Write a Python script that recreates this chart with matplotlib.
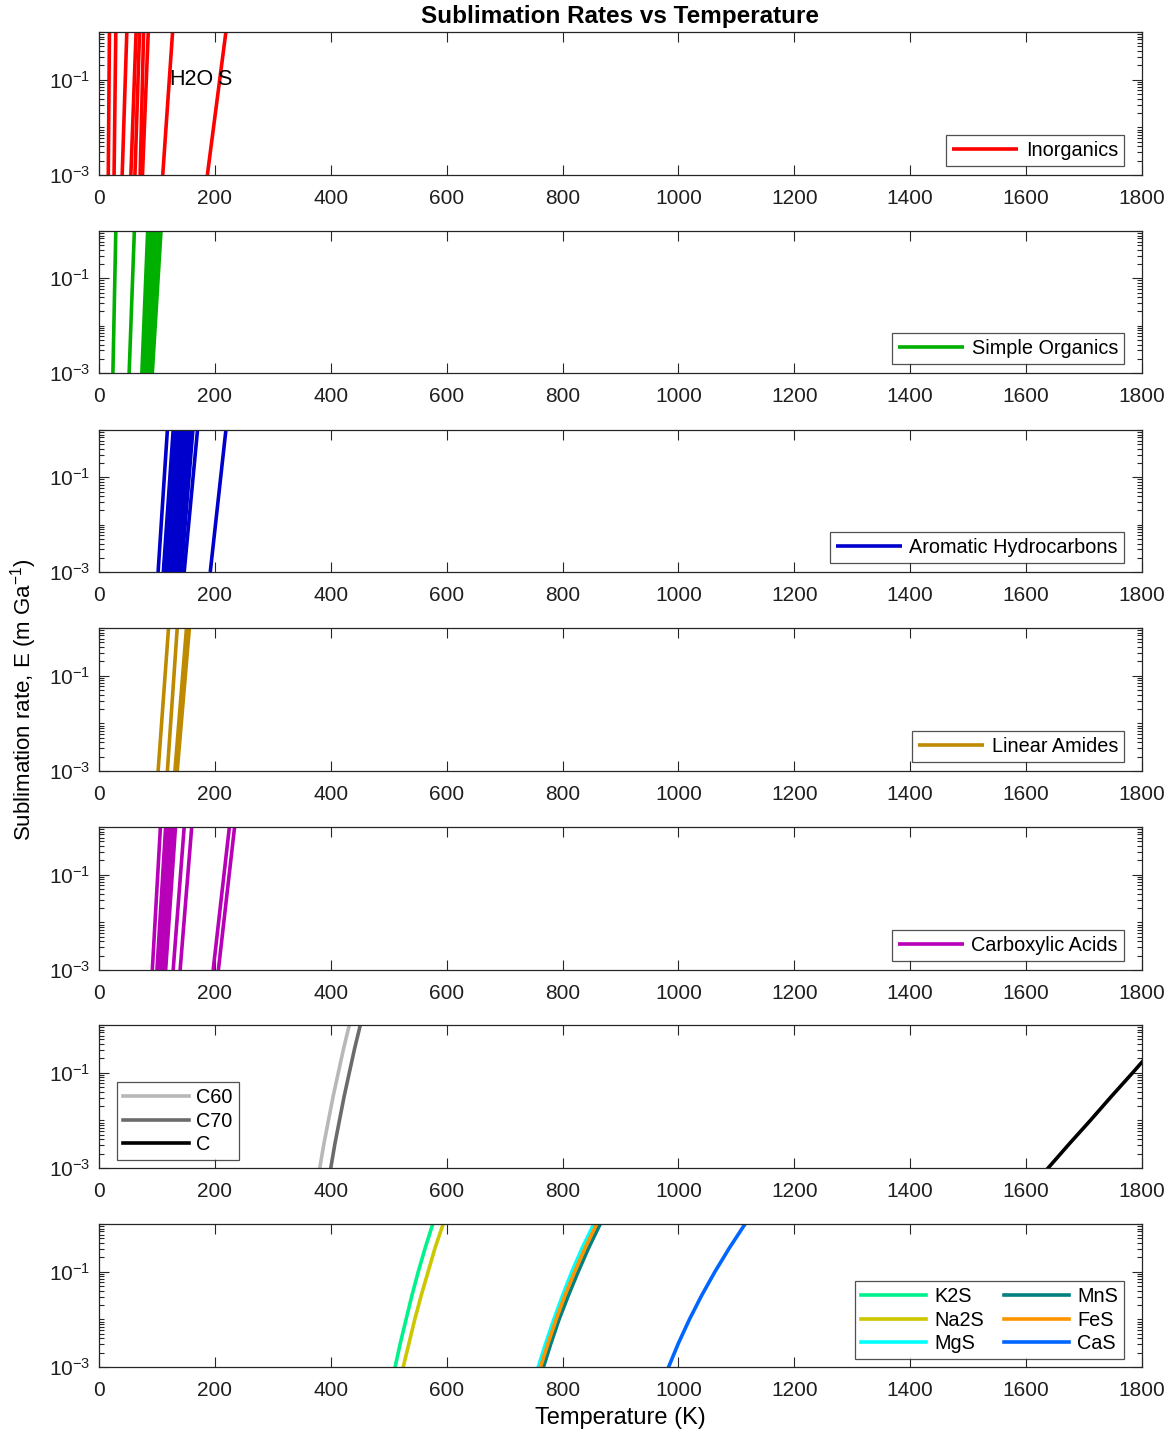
import numpy as np
import matplotlib
matplotlib.use("Agg")
import matplotlib.pyplot as plt
from matplotlib.ticker import FixedLocator, LogLocator, NullFormatter, LogFormatterSciNotation

plt.rcParams['font.family'] = ['Liberation Sans', 'DejaVu Sans']
plt.rcParams['mathtext.fontset'] = 'custom'
plt.rcParams['mathtext.rm'] = 'Liberation Sans'
plt.rcParams['mathtext.it'] = 'Liberation Sans:italic'

# ---------------- data (temperatures in K) ----------------
E_two = [1e-3, 1e0]   # rates at which T is read for steep lines
E_seven = [1e-3, 10**-2.5, 1e-2, 10**-1.5, 1e-1, 10**-0.5, 1e0]  # for curved lines

inorg_T_low = [16, 26, 40, 55, 62, 71, 75, 110, 187]
inorg_T_high = [18, 29, 48, 64, 70, 77, 85, 127, 219]

simple_T_low = [24, 52, 74, 77, 80, 83, 86, 89, 92]
simple_T_high = [29, 61, 84, 88, 92, 96, 100, 104, 107]

arom_T_low = [102, 111, 115, 119, 124, 128, 133, 137, 142, 147, 192]
arom_T_high = [118, 128, 132, 137, 142, 147, 152, 157, 162, 170, 219]

amide_T_low = [102, 118, 131, 135]
amide_T_high = [120, 135, 151, 156]

acid_T_low = [92, 100, 104, 108, 112, 115, 128, 140, 197, 206]
acid_T_high = [106, 115, 119, 124, 128, 132, 147, 160, 225, 234]

carbon_names = ["C60", "C70", "C"]
carbon_T = [[381, 388, 396, 404, 413, 422, 432],
            [400, 407, 415, 423, 432, 441, 451],
            [1638, 1674, 1711, 1747, 1784, 1820, 1857]]

sulfide_names = ["K2S", "Na2S", "MgS", "MnS", "FeS", "CaS"]
sulfide_T = [[511, 520, 530, 540, 551, 563, 576],
             [525, 535, 545, 556, 568, 580, 594],
             [758, 771, 785, 800, 816, 834, 854],
             [767, 780, 794, 810, 827, 845, 865],
             [762, 775, 789, 804, 821, 839, 859],
             [983, 1000, 1019, 1040, 1063, 1088, 1115]]

x_ticks = [0, 200, 400, 600, 800, 1000, 1200, 1400, 1600, 1800]

# ---------------- styling ----------------
W, H = 1174, 1433
fig = plt.figure(figsize=(W / 100, H / 100), dpi=100)

panel_px = [(32, 175), (231, 373), (430, 572), (628, 771), (827, 970), (1025, 1168), (1224, 1367)]
left_px, right_px = 99, 1142
axc = (0.15, 0.15, 0.15)
LW = 2.6
FS = 15
LFS = 14.3

axes = []
for (t, b) in panel_px:
    ax = fig.add_axes([left_px / W, 1 - b / H, (right_px - left_px) / W, (b - t) / H])
    ax.set_yscale('log')
    ax.set_xlim(0, 1800)
    ax.set_ylim(1e-3, 1e0)
    ax.xaxis.set_major_locator(FixedLocator(x_ticks))
    ax.yaxis.set_major_locator(FixedLocator([1e-3, 1e-1]))
    ax.yaxis.set_major_formatter(LogFormatterSciNotation())
    ax.yaxis.set_minor_locator(LogLocator(base=10, subs=np.arange(1, 10), numticks=20))
    ax.yaxis.set_minor_formatter(NullFormatter())
    ax.tick_params(which='both', direction='in', top=True, right=True, colors=axc,
                   labelcolor=(0.12, 0.12, 0.12), labelsize=FS, width=0.8)
    ax.tick_params(which='major', length=7)
    ax.tick_params(axis='x', which='major', pad=10)
    ax.tick_params(axis='y', which='major', pad=6)
    ax.tick_params(which='minor', length=3.5)
    for s in ax.spines.values():
        s.set_color(axc)
        s.set_linewidth(0.9)
    axes.append(ax)

leg_kw = dict(fontsize=LFS, frameon=True, fancybox=False, edgecolor=axc,
              handlelength=3.3, borderpad=0.3, handletextpad=0.4, borderaxespad=0.0,
              labelspacing=0.22)

def finish_legend(lg):
    lg.get_frame().set_linewidth(0.9)

def draw_pairs(ax, lows, highs, color, label):
    for i, (lo, hi) in enumerate(zip(lows, highs)):
        ax.plot([lo, hi], E_two, color=color, lw=LW, solid_capstyle='butt',
                label=label if i == 0 else None)
    finish_legend(ax.legend(loc='lower right', bbox_to_anchor=(0.9827, 0.063), **leg_kw))

draw_pairs(axes[0], inorg_T_low, inorg_T_high, (1, 0, 0), "Inorganics")
axes[0].text(122, 1e-1, "H2O", fontsize=15.5, va='center', ha='left', color='k')
axes[0].text(203, 1e-1, "S", fontsize=15.5, va='center', ha='left', color='k')
draw_pairs(axes[1], simple_T_low, simple_T_high, (0, 0.69, 0), "Simple Organics")
draw_pairs(axes[2], arom_T_low, arom_T_high, (0, 0, 0.8), "Aromatic Hydrocarbons")
draw_pairs(axes[3], amide_T_low, amide_T_high, (0.74, 0.54, 0.0), "Linear Amides")
draw_pairs(axes[4], acid_T_low, acid_T_high, (0.72, 0, 0.72), "Carboxylic Acids")

carbon_colors = [(0.72, 0.72, 0.72), (0.42, 0.42, 0.42), (0, 0, 0)]
for name, T, c in zip(carbon_names, carbon_T, carbon_colors):
    axes[5].plot(T, E_seven, color=c, lw=LW, label=name)
finish_legend(axes[5].legend(loc='lower left', bbox_to_anchor=(0.0173, 0.056), **leg_kw))

sulfide_colors = [(0.0, 0.95, 0.55), (0.8, 0.78, 0.0), (0.0, 1.0, 1.0),
                  (0.0, 0.5, 0.5), (1.0, 0.58, 0.0), (0.0, 0.4, 1.0)]
for name, T, c in zip(sulfide_names, sulfide_T, sulfide_colors):
    axes[6].plot(T, E_seven, color=c, lw=LW, label=name)
finish_legend(axes[6].legend(loc='lower right', bbox_to_anchor=(0.9827, 0.056), ncol=2,
                             columnspacing=1.0, **leg_kw))

fig.text(0.528, 1 - 16 / H, "Sublimation Rates vs Temperature", ha='center', va='center',
         fontsize=17.5, fontweight='bold')
fig.text(0.5 * (left_px + right_px) / W, 1 - 1418 / H, "Temperature (K)", ha='center',
         va='center', fontsize=17)
fig.text(24 / W, 1 - 700 / H, r"Sublimation rate, E (m Ga$^{-1}$)", ha='center', va='center',
         rotation=90, fontsize=16)

fig.savefig("out.png", dpi=100)
